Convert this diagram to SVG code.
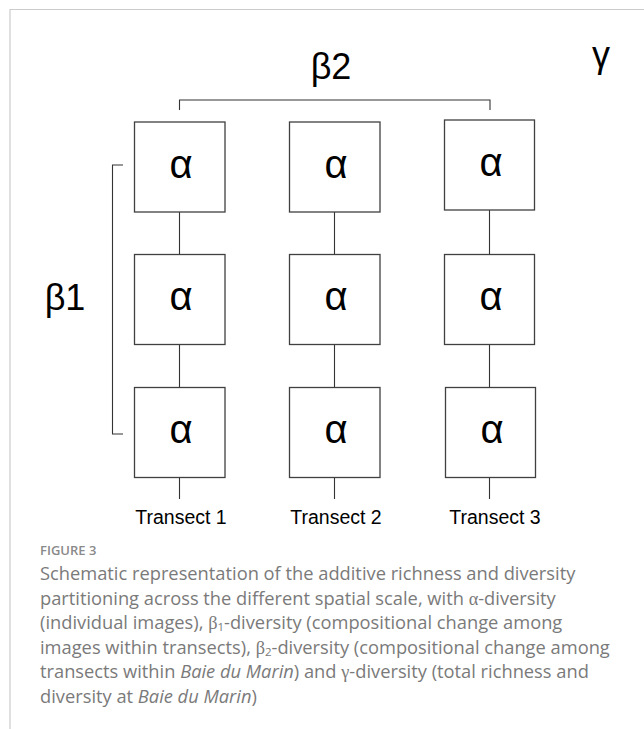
<svg xmlns="http://www.w3.org/2000/svg" width="644" height="729" viewBox="0 0 644 729">
<style>
.frame{stroke:#cccccc;stroke-width:1.2;fill:none}
.box{fill:#ffffff;stroke:#404040;stroke-width:1.3}
.ln{stroke:#333333;stroke-width:1.1;fill:none}
.alpha{font-family:"Liberation Sans",Arial,sans-serif;font-size:40px;fill:#000;text-anchor:middle}
.big{font-family:"Liberation Sans",Arial,sans-serif;font-size:36px;fill:#000;text-anchor:middle}
.tr{font-family:"Liberation Sans",Arial,sans-serif;font-size:19.5px;fill:#000;text-anchor:middle}
.fig{font-family:"Open Sans","Liberation Sans",sans-serif;font-size:13px;font-weight:600;fill:#8a8a8a}
.cap{font-family:"Open Sans","Liberation Sans",sans-serif;font-size:18.3px;fill:#7a7a7a}
.gr{font-family:"Liberation Serif","Times New Roman",serif}
.sub{font-size:11.5px}
</style>
<path class="frame" d="M10,729 V9.5 H644"/>
<g id="connectors">
<path class="ln" d="M179.5,110 V100 H490 V110"/>
<path class="ln" d="M123,165 H112.5 V434 H123"/>
<path class="ln" d="M179.5,212 V254 M179.5,344 V388 M179.5,477 V499"/>
<path class="ln" d="M334.5,212 V254 M334.5,344 V388 M334.5,477 V499"/>
<path class="ln" d="M489.5,210 V254 M489.5,344 V388 M489.5,477 V499"/>
</g>
<g id="labels">
<text class="big" x="331" y="79">β2</text>
<text class="big" x="65" y="310">β1</text>
<text class="big" x="601" y="67">γ</text>
</g>
<g id="a11"><rect class="box" x="134.5" y="122" width="90.5" height="90"/><text class="alpha" x="181" y="177.5">α</text></g>
<g id="a21"><rect class="box" x="289.5" y="122" width="90.5" height="90"/><text class="alpha" x="336" y="177.5">α</text></g>
<g id="a31"><rect class="box" x="444.5" y="120" width="90" height="90"/><text class="alpha" x="491" y="175.5">α</text></g>
<g id="a12"><rect class="box" x="134.5" y="254.5" width="90.5" height="90"/><text class="alpha" x="181" y="310">α</text></g>
<g id="a22"><rect class="box" x="289.5" y="254.5" width="90.5" height="90"/><text class="alpha" x="336" y="310">α</text></g>
<g id="a32"><rect class="box" x="444.5" y="254.5" width="90" height="90"/><text class="alpha" x="491" y="310">α</text></g>
<g id="a13"><rect class="box" x="134.5" y="387.5" width="90.5" height="90"/><text class="alpha" x="181" y="443">α</text></g>
<g id="a23"><rect class="box" x="289.5" y="387.5" width="90.5" height="90"/><text class="alpha" x="336" y="443">α</text></g>
<g id="a33"><rect class="box" x="445.5" y="387.5" width="90" height="90"/><text class="alpha" x="492" y="443">α</text></g>
<g id="transects">
<text class="tr" x="181" y="524">Transect 1</text>
<text class="tr" x="336" y="524">Transect 2</text>
<text class="tr" x="495" y="524">Transect 3</text>
</g>
<g id="caption">
<text class="fig" x="40" y="555">FIGURE 3</text>
<text class="cap" x="40" y="580">Schematic representation of the additive richness and diversity</text>
<text class="cap" x="40" y="604.6">partitioning across the different spatial scale, with <tspan class="gr">α</tspan>-diversity</text>
<text class="cap" x="40" y="629.2">(individual images), <tspan class="gr">β</tspan><tspan class="sub" dy="2">1</tspan><tspan dy="-2">-diversity (compositional change among</tspan></text>
<text class="cap" x="40" y="653.8">images within transects), <tspan class="gr">β</tspan><tspan class="sub" dy="2">2</tspan><tspan dy="-2">-diversity (compositional change among</tspan></text>
<text class="cap" x="40" y="678.4">transects within <tspan font-style="italic">Baie du Marin</tspan>) and <tspan class="gr">γ</tspan>-diversity (total richness and</text>
<text class="cap" x="40" y="703">diversity at <tspan font-style="italic">Baie du Marin</tspan>)</text>
</g>
</svg>
